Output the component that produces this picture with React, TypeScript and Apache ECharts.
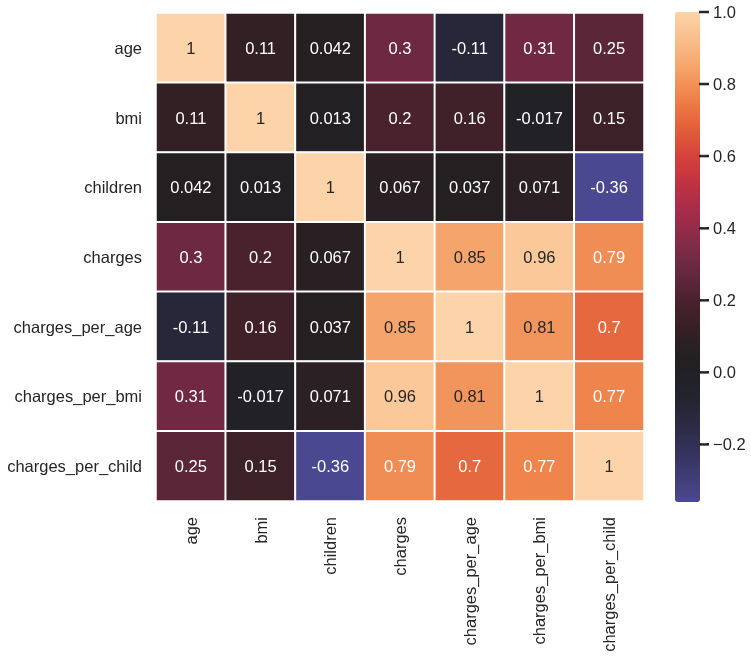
import React, { useEffect, useRef } from "react";
import * as echarts from "echarts";

const categories = [
  "age",
  "bmi",
  "children",
  "charges",
  "charges_per_age",
  "charges_per_bmi",
  "charges_per_child",
];

const rowAge = [1, 0.11, 0.042, 0.3, -0.11, 0.31, 0.25];
const rowBmi = [0.11, 1, 0.013, 0.2, 0.16, -0.017, 0.15];
const rowChildren = [0.042, 0.013, 1, 0.067, 0.037, 0.071, -0.36];
const rowCharges = [0.3, 0.2, 0.067, 1, 0.85, 0.96, 0.79];
const rowChargesPerAge = [-0.11, 0.16, 0.037, 0.85, 1, 0.81, 0.7];
const rowChargesPerBmi = [0.31, -0.017, 0.071, 0.96, 0.81, 1, 0.77];
const rowChargesPerChild = [0.25, 0.15, -0.36, 0.79, 0.7, 0.77, 1];

const matrix = [
  rowAge,
  rowBmi,
  rowChildren,
  rowCharges,
  rowChargesPerAge,
  rowChargesPerBmi,
  rowChargesPerChild,
];

const colorbarTicks = [-0.2, 0, 0.2, 0.4, 0.6, 0.8, 1.0];
const vMin = -0.36;
const vMax = 1;

// icefire (recentred at 0), evenly spaced stops from vMin to vMax
const palette = [
  "#4a4891",
  "#3e3c72",
  "#332f55",
  "#29283b",
  "#212128",
  "#242022",
  "#352025",
  "#4a222e",
  "#662840",
  "#842b48",
  "#a32c4a",
  "#bf3143",
  "#d5423b",
  "#e3603a",
  "#ee8048",
  "#f4a268",
  "#f9bd8a",
  "#fdd3a9",
];

const FONT = "'Liberation Sans', Arial, sans-serif";
const TXT = "#262626";

export default function App() {
  const ref = useRef<HTMLDivElement>(null);
  useEffect(() => {
    if (!ref.current) return;
    const chart = echarts.init(ref.current, undefined, { renderer: "svg" });
    const data: any[] = [];
    matrix.forEach((row, yi) => {
      row.forEach((v, xi) => {
        data.push({
          value: [xi, yi, v],
          label: { color: v >= 0.8 ? TXT : "#ffffff" },
        });
      });
    });
    chart.setOption({
      animation: false,
      textStyle: { fontFamily: FONT },
      grid: [
        { left: 156, top: 13, width: 488, height: 488 },
        { left: 675, top: 12, width: 25, height: 490 },
      ],
      xAxis: [
        {
          type: "category",
          gridIndex: 0,
          data: categories,
          position: "bottom",
          axisLine: { show: false },
          axisTick: { show: false },
          splitLine: { show: false },
          axisLabel: {
            rotate: 90,
            margin: 16,
            fontSize: 16.5,
            color: TXT,
            fontFamily: FONT,
            interval: 0,
          },
        },
        {
          type: "value",
          gridIndex: 1,
          show: false,
          min: 0,
          max: 1,
        },
      ],
      yAxis: [
        {
          type: "category",
          gridIndex: 0,
          data: categories,
          inverse: true,
          axisLine: { show: false },
          axisTick: { show: false },
          splitLine: { show: false },
          axisLabel: {
            margin: 14,
            fontSize: 16.5,
            color: TXT,
            fontFamily: FONT,
            interval: 0,
          },
        },
        {
          type: "value",
          gridIndex: 1,
          position: "right",
          min: vMin,
          max: vMax,
          axisLine: { show: false },
          splitLine: { show: false },
          axisTick: { show: false },
          axisLabel: {
            margin: 13,
            fontSize: 16.5,
            color: TXT,
            fontFamily: FONT,
            customValues: colorbarTicks,
            formatter: (v: number) => v.toFixed(1).replace("-", "\u2212"),
          },
        },
      ],
      visualMap: {
        type: "continuous",
        min: vMin,
        max: vMax,
        seriesIndex: 0,
        calculable: false,
        orient: "vertical",
        left: 675,
        top: 12,
        padding: 0,
        itemWidth: 25,
        itemHeight: 490,
        text: ["", ""],
        inRange: { color: palette },
      },
      series: [
        {
          type: "heatmap",
          xAxisIndex: 0,
          yAxisIndex: 0,
          data,
          itemStyle: { borderColor: "#ffffff", borderWidth: 2 },
          label: {
            show: true,
            fontSize: 16.5,
            fontFamily: FONT,
            formatter: (p: any) => String(p.value[2]),
          },
        },
        {
          type: "scatter",
          xAxisIndex: 1,
          yAxisIndex: 1,
          data: colorbarTicks.map((v) => [1, v]),
          symbol: "rect",
          symbolSize: [8, 2],
          symbolOffset: [4, 0],
          clip: false,
          silent: true,
          itemStyle: {
            color: TXT,
            opacity: 1,
            borderColor: TXT,
            borderWidth: 0.5,
          },
          emphasis: { disabled: true },
          z: 100,
        },
      ],
    });
    return () => chart.dispose();
  }, []);
  return (
    <div
      ref={ref}
      style={{ position: "fixed", left: 0, top: 0, width: 751, height: 657 }}
    />
  );
}
